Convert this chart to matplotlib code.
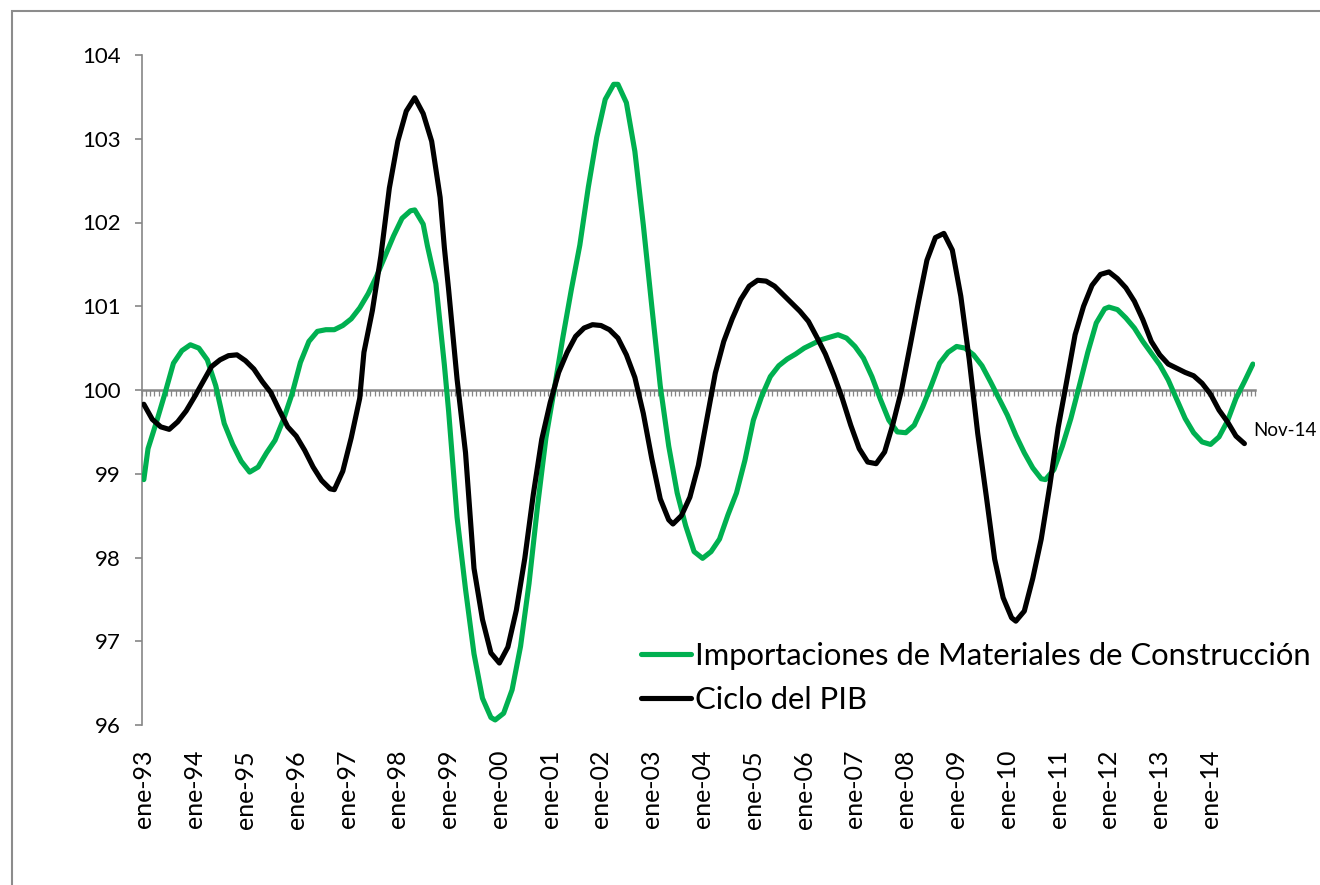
import numpy as np
import matplotlib
matplotlib.use("Agg")
import matplotlib.pyplot as plt
from matplotlib.lines import Line2D
from matplotlib.patches import Rectangle

plt.rcParams['font.family'] = ['Lato', 'DejaVu Sans']

# ---- data (month index: 0 = ene-93) ----
imp_months = [0, 1, 3, 5, 7, 9, 11, 13, 15, 17, 19, 21, 23, 25, 27, 29, 31, 33, 35, 37,
              39, 41, 43, 45, 47, 49, 51, 53, 55, 57, 59, 61, 63, 64, 66, 67, 69, 71, 72, 74,
              76, 78, 80, 82, 83, 85, 87, 89, 91, 93, 95, 97, 99, 101, 103, 105, 107, 109, 111, 112,
              114, 116, 118, 120, 122, 124, 126, 128, 130, 132, 134, 136, 138, 140, 142, 144, 146, 148, 150, 152,
              154, 156, 158, 160, 162, 164, 166, 168, 170, 172, 174, 176, 178, 180, 182, 184, 186, 188, 190, 192,
              194, 196, 198, 200, 202, 204, 206, 208, 210, 212, 213, 215, 217, 219, 221, 223, 225, 227, 228, 230,
              232, 234, 236, 238, 240, 242, 244, 246, 248, 250, 252, 254, 256, 258, 260, 262]
imp_values = [98.93, 99.30, 99.62, 99.96, 100.32, 100.47, 100.54, 100.50, 100.36, 100.05,
              99.60, 99.35, 99.15, 99.02, 99.08, 99.25, 99.40, 99.65, 99.95, 100.33,
              100.58, 100.70, 100.72, 100.72, 100.77, 100.85, 100.98, 101.15, 101.36, 101.60,
              101.84, 102.05, 102.14, 102.15, 101.98, 101.72, 101.27, 100.30, 99.75, 98.48,
              97.62, 96.85, 96.32, 96.09, 96.06, 96.14, 96.42, 96.94, 97.69, 98.61,
              99.43, 100.02, 100.63, 101.20, 101.73, 102.42, 103.02, 103.47, 103.65, 103.65,
              103.43, 102.85, 101.97, 101.00, 100.05, 99.33, 98.77, 98.38, 98.07, 97.99,
              98.07, 98.22, 98.51, 98.77, 99.16, 99.64, 99.93, 100.16, 100.29, 100.37,
              100.43, 100.50, 100.55, 100.60, 100.63, 100.66, 100.62, 100.52, 100.38, 100.16,
              99.89, 99.64, 99.50, 99.49, 99.58, 99.80, 100.05, 100.32, 100.45, 100.52,
              100.50, 100.42, 100.29, 100.10, 99.90, 99.70, 99.46, 99.25, 99.07, 98.94,
              98.93, 99.05, 99.33, 99.66, 100.05, 100.45, 100.80, 100.97, 100.99, 100.96,
              100.86, 100.74, 100.58, 100.44, 100.30, 100.12, 99.89, 99.66, 99.49, 99.38,
              99.35, 99.44, 99.63, 99.90, 100.10, 100.31]

pib_months = [0, 2, 4, 6, 8, 10, 12, 14, 16, 18, 20, 22, 24, 26, 28, 30, 32, 34, 36, 38,
              40, 42, 44, 45, 47, 49, 51, 52, 54, 56, 58, 60, 62, 64, 66, 68, 70, 71, 72, 74,
              76, 78, 80, 82, 84, 86, 88, 90, 92, 94, 96, 98, 100, 102, 104, 106, 108, 110, 112, 114,
              116, 118, 120, 122, 124, 125, 127, 129, 131, 133, 135, 137, 139, 141, 143, 145, 147, 149, 151, 153,
              155, 157, 159, 161, 163, 165, 167, 169, 171, 173, 175, 177, 179, 181, 183, 185, 187, 189, 191, 193,
              195, 197, 199, 201, 203, 205, 206, 208, 210, 212, 214, 216, 218, 220, 222, 224, 226, 228, 230, 232,
              234, 236, 238, 240, 242, 244, 246, 248, 250, 252, 254, 256, 258, 260]
pib_values = [99.83, 99.65, 99.56, 99.53, 99.62, 99.75, 99.92, 100.10, 100.28, 100.36,
              100.41, 100.42, 100.35, 100.25, 100.10, 99.97, 99.76, 99.56, 99.45, 99.28,
              99.08, 98.92, 98.82, 98.81, 99.03, 99.43, 99.90, 100.45, 100.95, 101.60,
              102.41, 102.97, 103.33, 103.49, 103.30, 102.97, 102.30, 101.70, 101.20, 100.13,
              99.25, 97.87, 97.26, 96.86, 96.74, 96.93, 97.37, 97.99, 98.75, 99.41,
              99.85, 100.21, 100.45, 100.64, 100.74, 100.78, 100.77, 100.72, 100.62, 100.42,
              100.15, 99.72, 99.18, 98.70, 98.45, 98.40, 98.50, 98.72, 99.10, 99.65,
              100.20, 100.58, 100.85, 101.08, 101.24, 101.31, 101.30, 101.24, 101.14, 101.04,
              100.94, 100.82, 100.63, 100.43, 100.18, 99.90, 99.58, 99.30, 99.14, 99.12,
              99.26, 99.60, 100.00, 100.52, 101.05, 101.55, 101.82, 101.87, 101.67, 101.12,
              100.36, 99.48, 98.74, 97.98, 97.52, 97.28, 97.24, 97.36, 97.75, 98.22,
              98.85, 99.55, 100.10, 100.66, 101.00, 101.25, 101.38, 101.41, 101.33, 101.22,
              101.06, 100.84, 100.58, 100.42, 100.31, 100.26, 100.21, 100.17, 100.08, 99.95,
              99.76, 99.62, 99.45, 99.36]

year_ticks = list(range(0, 253, 12))
year_labels = ['ene-93', 'ene-94', 'ene-95', 'ene-96', 'ene-97', 'ene-98', 'ene-99', 'ene-00',
               'ene-01', 'ene-02', 'ene-03', 'ene-04', 'ene-05', 'ene-06', 'ene-07', 'ene-08',
               'ene-09', 'ene-10', 'ene-11', 'ene-12', 'ene-13', 'ene-14']
n_categories = 263
y_ticks = [96, 97, 98, 99, 100, 101, 102, 103, 104]
series_names = ['Importaciones de Materiales de Construcción', 'Ciclo del PIB']
end_label = 'Nov-14'

GREEN = '#00B050'
GRAY = '#868686'

W, H = 1320, 885
fig = plt.figure(figsize=(W / 100, H / 100), dpi=100)
fig.patch.set_facecolor('white')

# outer frame
fig.patches.append(Rectangle((12 / W, -0.1), 1.2, 1 - 11 / H + 0.1, transform=fig.transFigure,
                             facecolor='none', edgecolor='#8c8c8c', linewidth=1.5, zorder=0))

ax = fig.add_axes([141.7 / W, (H - 725) / H, (1255 - 141.7) / W, (725 - 55) / H])
ax.set_facecolor('none')

lw = 3.7
ax.plot(imp_months, imp_values, color=GREEN, lw=lw, solid_capstyle='round',
        solid_joinstyle='round', zorder=3)
ax.plot(pib_months, pib_values, color='black', lw=lw, solid_capstyle='round',
        solid_joinstyle='round', zorder=4)

ax.set_xlim(-0.5, n_categories - 0.5)
ax.set_ylim(y_ticks[0], y_ticks[-1])

for s in ['top', 'right']:
    ax.spines[s].set_visible(False)
ax.spines['left'].set_color(GRAY)
ax.spines['left'].set_linewidth(1.2)
ax.spines['bottom'].set_position(('data', 100))
ax.spines['bottom'].set_color(GRAY)
ax.spines['bottom'].set_linewidth(1.8)

ax.set_yticks(y_ticks)
ax.tick_params(axis='y', direction='out', length=5, width=1.2, color=GRAY,
               labelsize=16, pad=10, labelcolor='black')

ax.set_xticks(np.arange(-0.5, n_categories, 1.0))
ax.tick_params(axis='x', direction='out', length=4.3, width=0.9, color=GRAY,
               labelbottom=False)

sec = ax.secondary_xaxis(0.0)
sec.set_xticks(year_ticks)
sec.set_xticklabels(year_labels, rotation=90)
sec.tick_params(axis='x', length=0, pad=18, labelsize=18, labelcolor='black')
sec.spines['bottom'].set_visible(False)

ax.annotate(end_label, xy=(pib_months[-1], pib_values[-1]), xytext=(6, 9.5),
            textcoords='offset points', ha='left', va='center', fontsize=13.5,
            annotation_clip=False)

handles = [Line2D([], [], color=GREEN, lw=lw, solid_capstyle='round'),
           Line2D([], [], color='black', lw=lw, solid_capstyle='round')]
ax.legend(handles, series_names, loc='upper left', bbox_to_anchor=(641 / W, 1 - 642 / H),
          bbox_transform=fig.transFigure, frameon=False, fontsize=22.3, handlelength=1.6,
          handletextpad=0.13, borderpad=0, borderaxespad=0, labelspacing=0.52)

fig.savefig('out.png', dpi=100, facecolor='white')
